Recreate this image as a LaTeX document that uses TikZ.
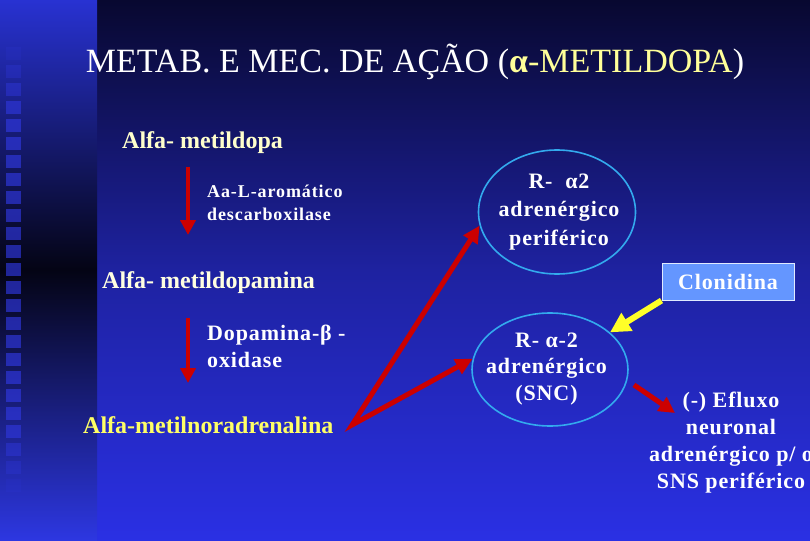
\documentclass[tikz,border=0pt]{standalone}
\usepackage{fontspec}
\setmainfont{Liberation Serif}
\newfontfamily\spf{Liberation Serif}[LetterSpace=4]
\newfontfamily\spfw{Liberation Serif}[LetterSpace=5]
\usetikzlibrary{arrows.meta,shapes.geometric}
\definecolor{bgtop}{RGB}{8,8,48}
\definecolor{bgmid}{RGB}{30,34,160}
\definecolor{bgbot}{RGB}{42,48,228}
\definecolor{sttop}{RGB}{40,50,210}
\definecolor{stmid}{RGB}{4,4,20}
\definecolor{stbot}{RGB}{45,55,225}
\definecolor{sq}{RGB}{48,56,225}
\definecolor{ylw}{RGB}{255,255,153}
\definecolor{pale}{RGB}{255,255,204}
\definecolor{paler}{RGB}{255,255,225}
\definecolor{ylwb}{RGB}{255,255,102}
\definecolor{arrred}{RGB}{204,0,0}
\definecolor{ringblue}{RGB}{51,170,238}
\definecolor{boxblue}{RGB}{100,150,255}
\definecolor{arryel}{RGB}{255,255,40}
\begin{document}
\begin{tikzpicture}[x=1pt,y=-1pt,
  titlestyle/.style={inner sep=0, text=white, font=\fontsize{34}{40}\selectfont},
  lbl/.style={inner sep=0, font=\fontsize{24}{28}\selectfont\bfseries},
  enzs/.style={inner sep=0, text=white, align=left, font=\spfw\fontsize{18}{23}\selectfont\bfseries},
  body/.style={inner sep=0, text=white, font=\spf\fontsize{22}{27}\selectfont\bfseries},
  ring/.style={ellipse, draw=ringblue, line width=1.6pt, inner sep=0},
  clbox/.style={draw=white!80!boxblue, line width=1pt, fill=boxblue, minimum width=132pt, minimum height=37pt, inner sep=0},
  redarr/.style={draw=arrred, line width=5pt, line join=miter},
  downarr/.style={draw=arrred, line width=4.5pt, -{Triangle[length=15pt,width=15pt]}},
  yelarr/.style={draw=arryel, line width=6pt, -{Triangle[length=20pt,width=20pt]}}
]
\useasboundingbox (0,0) rectangle (810,540);
% background
\shade[top color=bgtop, bottom color=bgbot, middle color=bgmid] (97,0) rectangle (810,540);
\shade[top color=sttop, bottom color=stbot, middle color=stmid] (0,0) rectangle (97,540);
\foreach \k/\op in {0/0.15,1/0.3,2/0.45,3/0.6,4/0.65,5/0.65,6/0.65,7/0.65,8/0.65,9/0.65,10/0.65,11/0.65,12/0.65,13/0.65,14/0.65,15/0.65,16/0.65,17/0.65,18/0.65,19/0.65,20/0.65,21/0.6,22/0.45,23/0.3,24/0.15}
  \fill[sq, opacity=\op] (6,{47+18*\k}) rectangle (21,{60+18*\k});

% title
\node[titlestyle, anchor=base] (title) at (415,73) {METAB. E MEC. DE AÇÃO ({\color{ylw}\bfseries α}{\color{ylw}-METILDOPA})};

% metabolic chain
\node[lbl, text=pale, anchor=base west] (m1) at (122,149) {Alfa- metildopa};
\node[lbl, text=paler, anchor=base west] (m2) at (102,288) {Alfa- metildopamina};
\node[lbl, text=ylwb, anchor=base west] (m3) at (83,433) {Alfa-metilnoradrenalina};
\node[enzs, anchor=base west] (z1) at (207,220) {Aa-L-aromático\\descarboxilase};
\node[body, align=left, anchor=base west] (z2) at (207,367) {Dopamina-β -\\oxidase};

\coordinate (d1a) at (188,167);
\coordinate (d1b) at (188,235);
\coordinate (d2a) at (188,318);
\coordinate (d2b) at (188,383);
\draw[downarr] (d1a) -- (d1b);
\draw[downarr] (d2a) -- (d2b);

% receptors
\node[ring, minimum width=157pt, minimum height=124pt] (e1) at (557,212) {};
\node[body, align=center, anchor=base, font=\spf\fontsize{22}{28.5}\selectfont\bfseries] (e1t) at (559,245) {R-~~α2\\adrenérgico\\periférico};
\node[ring, minimum width=156pt, minimum height=113pt] (e2) at (550,369.5) {};
\node[body, align=center, anchor=base, font=\spf\fontsize{22}{26.5}\selectfont\bfseries] (e2t) at (546.5,400) {R- α-2\\adrenérgico\\(SNC)};

\node[clbox, body] (cl) at (728,281.5) {Clonidina};

\node[body, align=center, anchor=base] (efx) at (731,488) {(-) Efluxo\\neuronal\\adrenérgico p/ o\\SNS periférico};

% connectors
\coordinate (vtx) at (352,425);
\coordinate (efxin) at (675,413);
\draw[redarr, {Triangle[length=17pt,width=16pt]}-{Triangle[length=17pt,width=16pt]}] (e1.190) -- (vtx) -- (e2.172);
\draw[redarr, -{Triangle[length=16pt,width=16pt]}, shorten <=8pt] (e2.-8) -- (efxin);
\draw[yelarr] (cl.south west) -- (e2);
\end{tikzpicture}
\end{document}
